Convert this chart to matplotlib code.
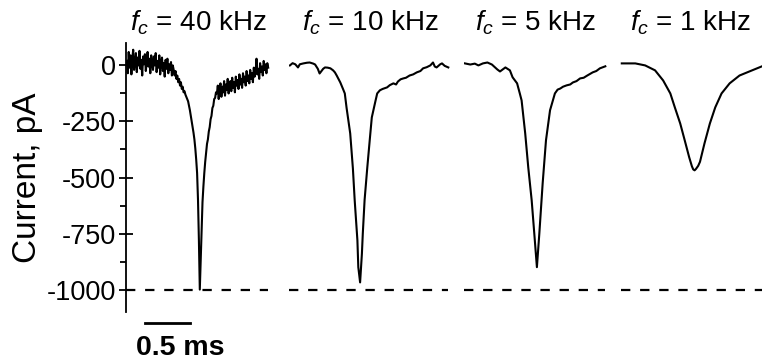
import numpy as np
import matplotlib
matplotlib.use('Agg')
import matplotlib.pyplot as plt
from matplotlib.ticker import MultipleLocator

plt.rcParams['font.family'] = 'Liberation Sans'
plt.rcParams['mathtext.fontset'] = 'custom'
plt.rcParams['mathtext.it'] = 'Liberation Sans:italic'
plt.rcParams['mathtext.rm'] = 'Liberation Sans'
plt.rcParams['axes.unicode_minus'] = False

# filter cut-off of each trace
cutoffs = ['40', '10', '5', '1']

# 40 kHz trace, sampled every 0.01 ms starting at 0.01 ms (pA)
dt_40 = 0.01
i_40 = [
    20, -35, 60, -10, 45, -40, 30, 70, -20, 10,
    55, -30, 35, 0, 65, -15, 25, -45, 40, 5,
    50, -25, 15, 60, -5, 30, -35, 45, 10, -20,
    40, 0, 55, -30, 20, -10, 45, -40, 15, 35,
    -25, 10, -50, 25, -15, 30, -35, 5, -20, 15,
    -45, 0,
    -20, -45, -25, -60, -45, -75, -60, -90, -75, -105, -95, -120, -115,
    -130, -140, -150, -160, -180, -200, -225, -250, -275, -300,
    -330, -370, -420, -480, -600, -780, -1000,
    -870, -740, -610, -540, -480, -430, -390, -350, -330, -295,
    -275, -240, -225, -190, -180, -150, -145, -120, -125,
    -90, -150, -100, -80, -140, -95, -120, -70, -135, -85,
    -110, -60, -125, -90, -70, -115, -55, -100, -75, -120,
    -50, -90, -65, -105, -40, -85, -60, -100, -35, -75,
    -50, -90, -25, -70, -45, -80, -20, -60, -35, -75,
    -10, -50, -30, 30, -40, -15, -60, 10, -30, -5,
    -45, 20, -20, 5, -35, 10, -10,
]

# 10 kHz trace (ms, pA)
t_10 = [0.01, 0.04, 0.07, 0.10, 0.12, 0.16, 0.20, 0.23, 0.27, 0.29,
        0.32, 0.34, 0.38, 0.40, 0.43, 0.46, 0.49, 0.51, 0.53, 0.57,
        0.60, 0.62, 0.64, 0.68, 0.71, 0.73, 0.76, 0.77, 0.79, 0.81,
        0.82, 0.84, 0.87, 0.90, 0.92, 0.96, 0.98, 1.01, 1.04, 1.09,
        1.12, 1.16, 1.19, 1.21, 1.24, 1.27, 1.30, 1.34, 1.38, 1.42,
        1.46, 1.49, 1.53, 1.57, 1.60, 1.62, 1.64, 1.68, 1.70, 1.73, 1.77]
i_10 = [0, 10, 5, -9, 5, 9, 12, 13, 8, 4,
        -15, -36, -15, -9, -10, -13, -22, -31, -45, -76,
        -105, -125, -190, -303, -460, -602, -780, -900, -968, -840,
        -750, -600, -455, -320, -232, -160, -125, -111, -105, -98,
        -88, -80, -85, -72, -62, -58, -55, -45, -40, -31,
        -25, -13, -8, 0, 13, -5, -9, 5, 9, -2, -9]

# 5 kHz trace (ms, pA)
t_5 = [0.01, 0.07, 0.12, 0.16, 0.21, 0.26, 0.31, 0.37, 0.40, 0.46,
       0.51, 0.54, 0.59, 0.62, 0.64, 0.68, 0.714, 0.752, 0.781, 0.81,
       0.837, 0.874, 0.911, 0.956, 1.01, 1.04, 1.07, 1.10, 1.14, 1.18,
       1.21, 1.25, 1.29, 1.33, 1.37, 1.40, 1.43, 1.47, 1.51, 1.57]
i_5 = [9, 4, 8, 0, 9, 13, 4, -18, -27, -9,
       -22, -53, -80, -125, -156, -303, -455, -602, -750, -900,
       -750, -526, -334, -200, -125, -108, -103, -95, -89, -85,
       -76, -70, -58, -55, -45, -38, -31, -25, -13, -4]

# 1 kHz trace (ms, pA)
t_1 = [0.02, 0.17, 0.28, 0.39, 0.48, 0.56, 0.61, 0.67, 0.72, 0.77,
       0.80, 0.815, 0.83, 0.845, 0.87, 0.89, 0.94, 1.00, 1.06, 1.13,
       1.22, 1.33, 1.47, 1.58]
i_1 = [9, 9, 0, -22, -67, -125, -187, -259, -334, -410,
       -450, -464, -468, -462, -448, -430, -348, -259, -187, -125,
       -80, -45, -22, -4]

t_40 = dt_40 * np.arange(1, len(i_40) + 1)
traces = [(t_40, i_40), (t_10, i_10), (t_5, i_5), (t_1, i_1)]

# panel placement in figure pixels (left, width) and time span in ms
W, H = 762, 362
panels = [(126, 144), (289, 162), (464, 144), (620, 142)]
spans = [1.6, 1.8, 1.6, 1.58]
bottom, top = 312, 43

fig = plt.figure(figsize=(W / 100, H / 100), dpi=100)
axes = []
for (left, width), span in zip(panels, spans):
    ax = fig.add_axes([left / W, 1 - bottom / H, width / W, (bottom - top) / H])
    ax.set_xlim(0, span)
    ax.set_ylim(-1100, 100)
    for s in ['top', 'right', 'bottom']:
        ax.spines[s].set_visible(False)
    ax.set_xticks([])
    axes.append(ax)

for ax, (t, cur), fc in zip(axes, traces, cutoffs):
    ax.plot(t, cur, color='black', lw=1.5, solid_joinstyle='round')
    ax.hlines(-1000, t[0] - 0.01, t[-1], color='black', lw=1.6,
              linestyles=(0, (4.2, 4.4)))
    ax.set_title(r'$f_c$' + ' = ' + fc + ' kHz', fontsize=20, pad=9)

ax0 = axes[0]
ax0.spines['left'].set_linewidth(1.3)
ax0.yaxis.set_major_locator(MultipleLocator(250))
ax0.yaxis.set_minor_locator(MultipleLocator(125))
ax0.tick_params(axis='y', which='major', direction='inout', length=10,
                width=1.3, labelsize=19.5, pad=2)
ax0.tick_params(axis='y', which='minor', direction='out', length=4, width=1.3)
ax0.set_ylabel('Current, pA', fontsize=24, labelpad=3)

for ax in axes[1:]:
    ax.spines['left'].set_visible(False)
    ax.set_yticks([])

# 0.5 ms scale bar
ax0.plot([0.21, 0.71], [-1147, -1147], color='black', lw=2, clip_on=False)
ax0.text(0.6, -1262, '0.5 ms', ha='center', va='center',
         fontsize=20.5, fontweight='bold')

fig.savefig('out.png', dpi=100)
